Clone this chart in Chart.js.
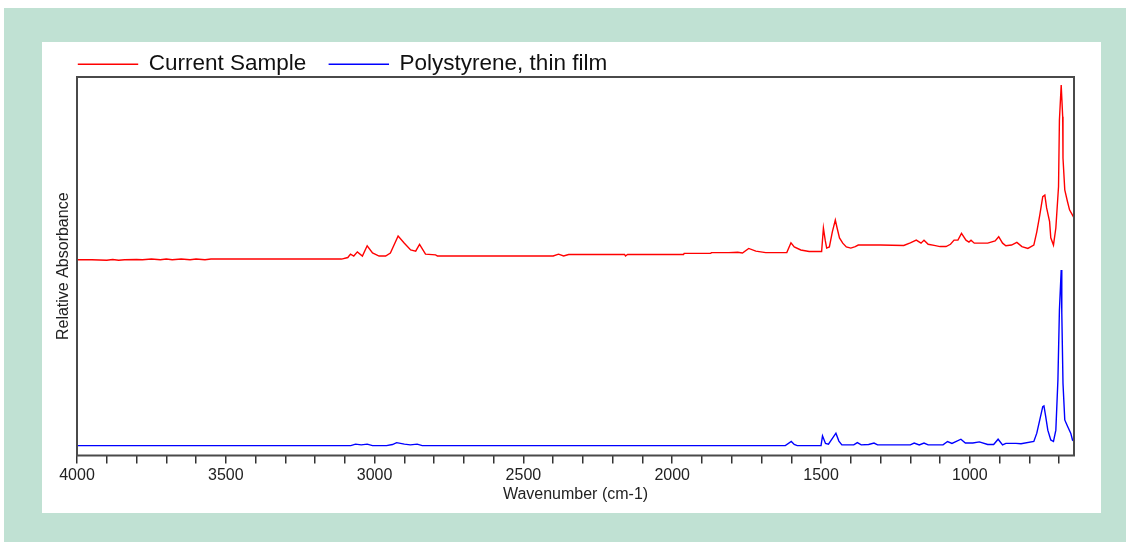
<!DOCTYPE html>
<html>
<head>
<meta charset="utf-8">
<title>IR Spectrum</title>
<script src="https://cdn.jsdelivr.net/npm/chart.js@4.4.1/dist/chart.umd.min.js"></script>
<style>
  html, body { margin: 0; padding: 0; background: #ffffff; }
  body { width: 1126px; height: 542px; position: relative; overflow: hidden; }
  #frame { position: absolute; left: 4px; top: 8px; width: 1122px; height: 534px; background: #c0e1d3; }
  #panel { position: absolute; left: 42px; top: 42px; width: 1059px; height: 471px; background: #ffffff; }
  #chart { position: absolute; left: 0; top: 0; }
</style>
</head>
<body>
<div id="frame"></div>
<div id="panel"></div>
<canvas id="chart" width="1126" height="542"></canvas>
<script>
// Current sample spectrum: wavenumber (cm-1) and relative absorbance
const sampleWavenumbers = [
  4000, 3950, 3900, 3880, 3860, 3840, 3800, 3780, 3750, 3720, 3700, 3680, 3650, 3620, 3600, 3570, 3550, 3520,
  3300, 3111, 3090, 3081, 3070, 3058, 3041, 3025, 3007, 2985, 2963, 2947, 2921, 2900, 2879, 2862, 2849, 2829,
  2795, 2789, 2400, 2382, 2365, 2348, 2160, 2157, 2150, 1962, 1960, 1871, 1868, 1810, 1780, 1764, 1743, 1719,
  1686, 1615, 1601, 1590, 1568, 1540, 1498, 1492, 1486, 1481, 1472, 1462, 1452, 1446, 1438, 1427, 1415, 1400,
  1385, 1375, 1300, 1222, 1200, 1180, 1164, 1154, 1140, 1120, 1100, 1080, 1065, 1053, 1040, 1028, 1013, 1003,
  996, 985, 940, 915, 903, 890, 879, 860, 842, 825, 805, 785, 775, 765, 755, 748, 742, 732, 728, 719, 711, 702,
  699, 693, 688, 687, 681, 672, 665, 655, 650
];
const sampleAbsorbance = [
  0.517, 0.517, 0.516, 0.518, 0.516, 0.517, 0.518, 0.517, 0.519, 0.517, 0.519, 0.517, 0.519, 0.517, 0.519, 0.517, 0.519, 0.519,
  0.519, 0.519, 0.523, 0.532, 0.527, 0.538, 0.527, 0.554, 0.535, 0.527, 0.527, 0.535, 0.580, 0.561, 0.543, 0.540, 0.558, 0.532,
  0.530, 0.527, 0.527, 0.532, 0.527, 0.531, 0.531, 0.527, 0.531, 0.531, 0.534, 0.534, 0.536, 0.536, 0.537, 0.535, 0.547, 0.540,
  0.536, 0.536, 0.562, 0.551, 0.543, 0.539, 0.539, 0.601, 0.569, 0.548, 0.551, 0.591, 0.622, 0.601, 0.575, 0.561, 0.551, 0.548,
  0.552, 0.556, 0.556, 0.555, 0.562, 0.569, 0.561, 0.569, 0.558, 0.555, 0.552, 0.552, 0.558, 0.569, 0.569, 0.587, 0.569, 0.564,
  0.569, 0.561, 0.561, 0.567, 0.578, 0.561, 0.554, 0.556, 0.563, 0.552, 0.547, 0.556, 0.591, 0.635, 0.684, 0.688, 0.654, 0.618, 0.575, 0.556, 0.601, 0.710,
  0.886, 0.979, 0.895, 0.786, 0.702, 0.671, 0.649, 0.635, 0.628
];

// Polystyrene reference film spectrum
const referenceWavenumbers = [
  4000, 3120, 3080, 3064, 3045, 3025, 3007, 2960, 2940, 2926, 2900, 2880, 2857, 2840, 1620, 1600, 1590, 1580,
  1500, 1495, 1485, 1475, 1450, 1440, 1430, 1390, 1378, 1365, 1340, 1322, 1310, 1200, 1187, 1170, 1154, 1140,
  1090, 1075, 1060, 1030, 1015, 990, 968, 940, 920, 905, 890, 879, 845, 828, 785, 775, 765, 755, 751, 745,
  738, 728, 719, 711, 704, 699, 693, 691, 687, 681, 671, 661, 655, 650
];
const referenceAbsorbance = [
  0.026, 0.026, 0.026, 0.030, 0.028, 0.030, 0.026, 0.026, 0.029, 0.034, 0.030, 0.028, 0.030, 0.026, 0.026, 0.037, 0.029, 0.026,
  0.026, 0.052, 0.032, 0.030, 0.059, 0.038, 0.028, 0.028, 0.034, 0.028, 0.029, 0.033, 0.028, 0.028, 0.033, 0.028, 0.033, 0.028,
  0.028, 0.037, 0.032, 0.043, 0.033, 0.033, 0.036, 0.029, 0.029, 0.043, 0.028, 0.032, 0.032, 0.031, 0.037, 0.059, 0.094, 0.129, 0.131, 0.103,
  0.067, 0.041, 0.037, 0.067, 0.200, 0.384, 0.490, 0.377, 0.191, 0.094, 0.076, 0.059, 0.041, 0.038
];

// Axis range and labelled ticks
const xMax = 4000;
const xMin = 650;
const labelledTicks = [4000, 3500, 3000, 2500, 2000, 1500, 1000];
const minorTickStep = 100;

const seriesNames = ['Current Sample', 'Polystyrene, thin film'];
const seriesColors = ['#ff0000', '#0000ff'];

function toPoints(xs, ys) {
  return xs.map((x, i) => ({ x: x, y: ys[i] }));
}

const tickMarks = [];
for (let v = xMax; v >= 700; v -= minorTickStep) tickMarks.push(v);

const FONT = '"Liberation Sans", Arial, Helvetica, sans-serif';

// Dark frame around the plotting area
const plotFrame = {
  id: 'plotFrame',
  afterDatasetsDraw(chart) {
    const { ctx, chartArea: a } = chart;
    ctx.save();
    ctx.strokeStyle = '#4a4a4a';
    ctx.lineWidth = 2;
    ctx.strokeRect(a.left, a.top, a.right - a.left, a.bottom - a.top);
    ctx.restore();
  }
};

new Chart(document.getElementById('chart'), {
  type: 'line',
  data: {
    datasets: [
      {
        label: seriesNames[0],
        data: toPoints(sampleWavenumbers, sampleAbsorbance),
        borderColor: seriesColors[0],
        backgroundColor: seriesColors[0],
        borderWidth: 1.4,
        pointRadius: 0,
        tension: 0,
        fill: false
      },
      {
        label: seriesNames[1],
        data: toPoints(referenceWavenumbers, referenceAbsorbance),
        borderColor: seriesColors[1],
        backgroundColor: seriesColors[1],
        borderWidth: 1.4,
        pointRadius: 0,
        tension: 0,
        fill: false
      }
    ]
  },
  options: {
    responsive: false,
    animation: false,
    devicePixelRatio: 1,
    layout: { padding: { left: 55.5, right: 52, top: 30, bottom: 37.4 } },
    plugins: {
      tooltip: { enabled: false },
      legend: {
        display: true,
        position: 'top',
        align: 'start',
        maxHeight: 47,
        labels: {
          boxWidth: 59,
          boxHeight: 0.01,
          padding: 23,
          color: '#111111',
          font: { family: FONT, size: 22.5 }
        }
      }
    },
    scales: {
      x: {
        type: 'linear',
        reverse: true,
        min: xMin,
        max: xMax,
        afterBuildTicks(scale) {
          scale.ticks = tickMarks.map(v => ({ value: v }));
        },
        afterFit(scale) { scale.height = 49.1; },
        ticks: {
          autoSkip: false,
          maxRotation: 0,
          padding: 2,
          color: '#222222',
          font: { family: FONT, size: 16 },
          callback: (v) => labelledTicks.includes(v) ? String(v) : ''
        },
        grid: {
          display: true,
          drawOnChartArea: false,
          drawTicks: true,
          tickLength: 8,
          color: '#333333',
          lineWidth: 1.5
        },
        border: { display: false },
        title: {
          display: true,
          text: 'Wavenumber (cm-1)',
          color: '#222222',
          padding: { top: 0, bottom: 0 },
          font: { family: FONT, size: 16 }
        }
      },
      y: {
        type: 'linear',
        min: 0,
        max: 1,
        afterFit(scale) { scale.width = 21.5; },
        ticks: { display: false },
        grid: { display: false, drawTicks: false },
        border: { display: false },
        title: {
          display: true,
          text: 'Relative Absorbance',
          color: '#222222',
          padding: { top: 0, bottom: 0 },
          font: { family: FONT, size: 16, lineHeight: 1 }
        }
      }
    }
  },
  plugins: [plotFrame]
});
</script>
</body>
</html>
